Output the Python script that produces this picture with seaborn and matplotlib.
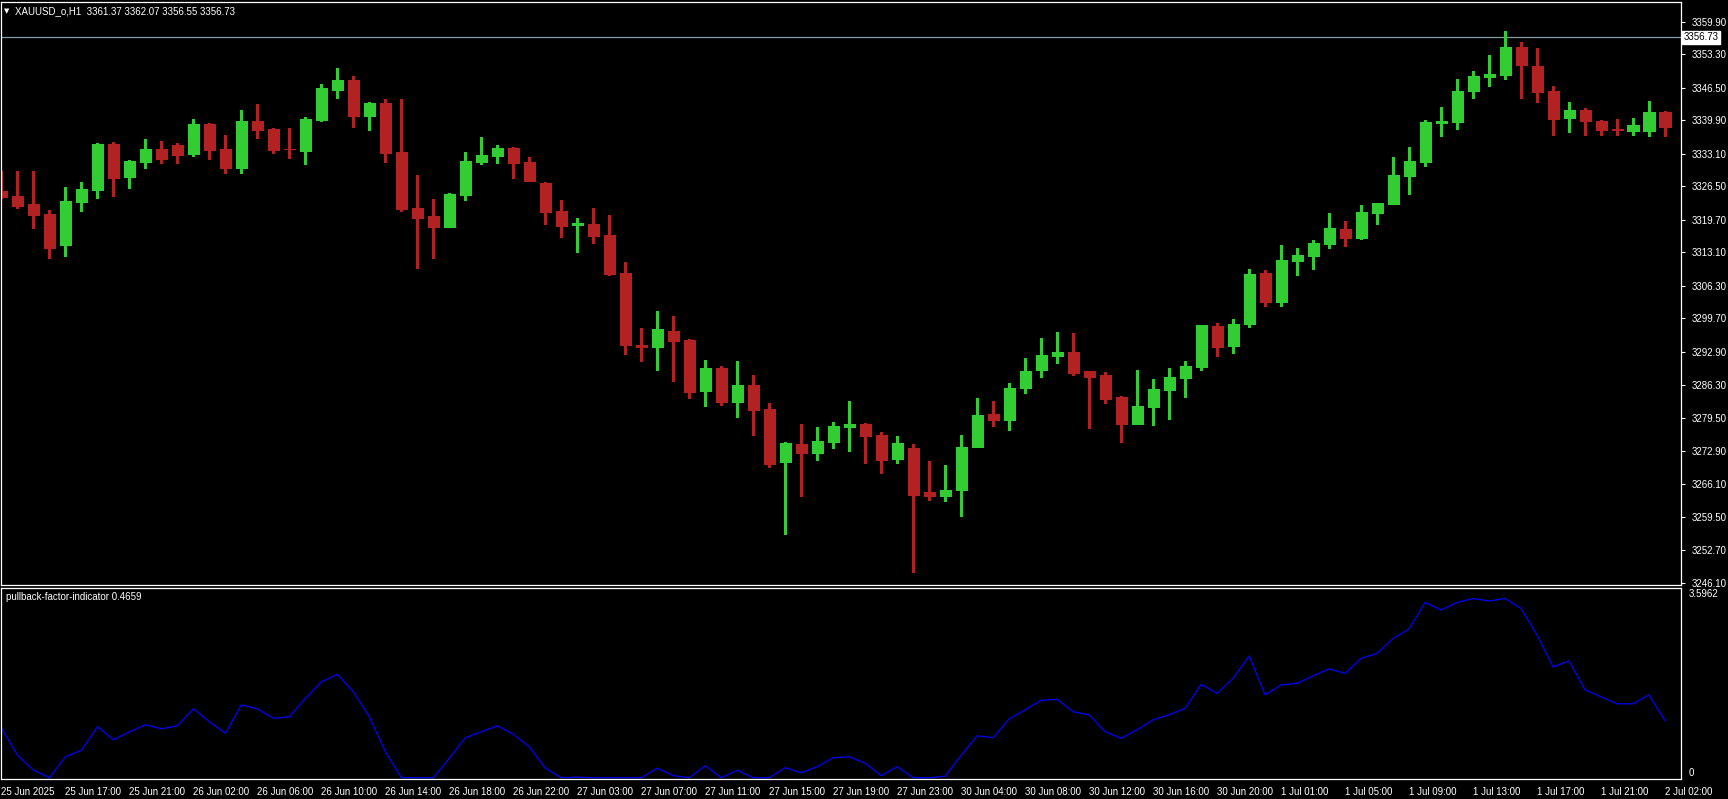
import numpy as np
import pandas as pd
import matplotlib
matplotlib.use("Agg")
import matplotlib.pyplot as plt
import matplotlib.transforms as mtransforms
import seaborn as sns

# XAUUSD_o H1 candles, 25 Jun 13:00 -> 2 Jul 02:00
opens = [3325.6, 3324.6, 3322.9, 3320.9, 3314.6, 3323.3, 3325.8, 3335.1, 3328.4, 3331.5,
         3334.1, 3334.9, 3333.1, 3339.2, 3334.1, 3330.2, 3339.8, 3338.1, 3334.1, 3333.7,
         3340.0, 3346.1, 3348.1, 3340.8, 3343.4, 3333.5, 3322.1, 3320.5, 3318.3, 3324.8,
         3331.5, 3332.7, 3334.3, 3331.5, 3327.2, 3321.5, 3318.7, 3318.9, 3316.6, 3308.9,
         3294.3, 3293.9, 3297.2, 3295.4, 3285.0, 3289.7, 3282.8, 3286.2, 3281.4, 3270.6,
         3274.3, 3272.4, 3274.7, 3277.7, 3278.3, 3276.1, 3271.2, 3273.5, 3264.5, 3263.7,
         3264.9, 3273.7, 3280.3, 3279.1, 3285.6, 3289.3, 3292.1, 3292.9, 3289.1, 3288.3,
         3283.8, 3278.3, 3281.8, 3285.2, 3287.6, 3289.9, 3298.2, 3294.1, 3298.6, 3308.9,
         3303.1, 3311.4, 3312.4, 3314.8, 3317.9, 3316.0, 3321.1, 3322.9, 3328.6, 3331.4,
         3339.4, 3339.6, 3345.8, 3348.7, 3349.1, 3354.8, 3350.9, 3345.8, 3340.4, 3342.0,
         3339.8, 3338.1, 3337.7, 3337.7, 3341.6]
highs = [3329.6, 3329.6, 3329.6, 3321.7, 3326.4, 3327.4, 3335.3, 3335.5, 3331.9, 3336.1,
         3335.7, 3335.3, 3340.2, 3339.4, 3336.9, 3342.0, 3343.2, 3338.3, 3338.3, 3340.6,
         3347.3, 3350.5, 3348.9, 3343.6, 3344.2, 3344.2, 3328.8, 3323.9, 3325.2, 3333.5,
         3336.5, 3334.9, 3334.5, 3332.5, 3327.4, 3323.7, 3320.1, 3322.1, 3320.7, 3311.2,
         3297.8, 3301.2, 3300.2, 3295.6, 3291.3, 3290.1, 3291.1, 3288.3, 3282.6, 3274.7,
         3278.3, 3277.7, 3278.7, 3283.0, 3278.5, 3276.7, 3275.9, 3274.3, 3270.8, 3270.0,
         3276.1, 3283.6, 3283.0, 3286.6, 3291.7, 3295.8, 3297.0, 3296.8, 3289.1, 3288.9,
         3284.0, 3289.3, 3287.4, 3289.7, 3291.1, 3298.4, 3298.8, 3299.6, 3309.7, 3309.5,
         3314.6, 3314.0, 3315.6, 3321.1, 3319.5, 3322.7, 3323.1, 3332.5, 3334.5, 3340.0,
         3342.6, 3348.3, 3349.9, 3353.1, 3358.0, 3355.8, 3354.6, 3346.9, 3343.6, 3342.4,
         3340.0, 3340.2, 3340.4, 3343.8, 3341.8]
lows = [3324.2, 3322.2, 3318.1, 3312.0, 3312.4, 3321.5, 3324.1, 3324.6, 3326.2, 3330.2,
        3331.2, 3331.2, 3332.7, 3332.1, 3329.2, 3329.2, 3336.3, 3333.3, 3332.3, 3331.0,
        3339.8, 3344.4, 3338.5, 3337.9, 3331.5, 3321.5, 3310.0, 3312.0, 3318.2, 3323.8,
        3331.1, 3331.3, 3328.2, 3327.6, 3318.9, 3316.2, 3313.2, 3315.0, 3308.5, 3292.5,
        3291.1, 3289.3, 3287.0, 3283.6, 3282.0, 3282.2, 3279.7, 3276.1, 3269.6, 3256.0,
        3263.7, 3271.0, 3273.4, 3272.8, 3270.4, 3268.4, 3270.4, 3248.3, 3262.9, 3262.7,
        3259.7, 3273.6, 3277.9, 3277.1, 3284.6, 3287.8, 3290.7, 3288.3, 3277.5, 3282.6,
        3274.7, 3278.3, 3278.1, 3279.3, 3283.8, 3289.3, 3292.1, 3292.7, 3298.0, 3302.2,
        3302.2, 3308.5, 3309.7, 3314.0, 3314.4, 3315.8, 3318.9, 3322.9, 3324.9, 3330.6,
        3336.7, 3338.1, 3344.4, 3346.9, 3348.3, 3344.4, 3343.6, 3336.9, 3337.5, 3336.9,
        3336.9, 3336.9, 3336.9, 3336.7, 3336.7]
closes = [3324.4, 3322.5, 3320.7, 3314.0, 3323.5, 3326.0, 3335.1, 3328.2, 3331.6, 3334.1,
          3332.1, 3332.9, 3339.2, 3333.9, 3330.2, 3339.8, 3337.9, 3333.9, 3334.0, 3340.2,
          3346.5, 3348.1, 3340.8, 3343.4, 3333.3, 3321.9, 3320.1, 3318.3, 3325.0, 3331.7,
          3332.9, 3334.3, 3331.3, 3327.6, 3321.3, 3318.5, 3319.0, 3316.4, 3308.7, 3294.3,
          3294.0, 3297.6, 3295.2, 3284.8, 3289.7, 3282.8, 3286.2, 3281.2, 3270.2, 3274.5,
          3272.4, 3274.9, 3277.9, 3278.3, 3275.9, 3271.0, 3274.5, 3263.9, 3263.7, 3264.9,
          3273.7, 3280.1, 3279.1, 3285.6, 3289.1, 3292.3, 3292.9, 3288.7, 3287.9, 3283.4,
          3278.3, 3282.0, 3285.4, 3287.8, 3290.1, 3298.4, 3293.9, 3298.6, 3308.7, 3303.1,
          3311.6, 3312.6, 3315.0, 3318.1, 3316.0, 3321.3, 3323.1, 3328.8, 3331.6, 3339.6,
          3339.8, 3345.8, 3348.9, 3349.3, 3354.8, 3351.1, 3345.6, 3340.2, 3342.0, 3339.8,
          3337.9, 3338.0, 3338.9, 3341.6, 3338.5]

# pullback-factor-indicator values, one per bar
pullback = [0.99, 0.45, 0.15, 0.00, 0.42, 0.55, 1.02, 0.76, 0.92, 1.06,
            0.98, 1.04, 1.38, 1.12, 0.89, 1.46, 1.38, 1.19, 1.22, 1.59,
            1.92, 2.07, 1.72, 1.22, 0.52, 0.00, 0.00, 0.00, 0.39, 0.80,
            0.92, 1.04, 0.87, 0.62, 0.19, 0.00, 0.01, 0.00, 0.00, 0.00,
            0.00, 0.19, 0.04, 0.00, 0.24, 0.00, 0.15, 0.00, 0.00, 0.20,
            0.10, 0.22, 0.40, 0.42, 0.29, 0.04, 0.22, 0.00, 0.00, 0.03,
            0.45, 0.84, 0.80, 1.18, 1.36, 1.55, 1.57, 1.32, 1.26, 0.92,
            0.79, 0.96, 1.16, 1.26, 1.39, 1.87, 1.69, 1.99, 2.44, 1.66,
            1.86, 1.89, 2.04, 2.18, 2.09, 2.39, 2.49, 2.79, 2.98, 3.51,
            3.36, 3.51, 3.59, 3.54, 3.59, 3.39, 2.86, 2.22, 2.34, 1.76,
            1.62, 1.48, 1.48, 1.66, 1.14]

time_labels = ["25 Jun 2025", "25 Jun 17:00", "25 Jun 21:00", "26 Jun 02:00", "26 Jun 06:00",
               "26 Jun 10:00", "26 Jun 14:00", "26 Jun 18:00", "26 Jun 22:00", "27 Jun 03:00",
               "27 Jun 07:00", "27 Jun 11:00", "27 Jun 15:00", "27 Jun 19:00", "27 Jun 23:00",
               "30 Jun 04:00", "30 Jun 08:00", "30 Jun 12:00", "30 Jun 16:00", "30 Jun 20:00",
               "1 Jul 01:00", "1 Jul 05:00", "1 Jul 09:00", "1 Jul 13:00", "1 Jul 17:00",
               "1 Jul 21:00", "2 Jul 02:00"]

price_ticks = [3359.90, 3353.30, 3346.50, 3339.90, 3333.10, 3326.50, 3319.70, 3313.10, 3306.30,
               3299.70, 3292.90, 3286.30, 3279.50, 3272.90, 3266.10, 3259.50, 3252.70, 3246.10]

header = "XAUUSD_o,H1  3361.37 3362.07 3356.55 3356.73"
last_price = 3356.73
ind_name = "pullback-factor-indicator 0.4659"
ind_max = 3.5962

df = pd.DataFrame({"open": opens, "high": highs, "low": lows, "close": closes, "pf": pullback})
df["bar"] = np.arange(len(df))

sns.set_theme(style="dark")
plt.rcParams["font.family"] = ["Liberation Sans", "DejaVu Sans"]

UP, DOWN = "#32cd32", "#b22222"
W, H = 1728, 799


def box(x0, y0, x1, y1):
    # pixel rectangle (from top-left) -> figure coords
    return [x0 / W, 1 - y1 / H, (x1 - x0) / W, (y1 - y0) / H]


fig = plt.figure(figsize=(W / 100, H / 100), dpi=100, facecolor="black")
ax1 = fig.add_axes(box(0.5, 2, 1681, 585))
ax2 = fig.add_axes(box(0.5, 588, 1681, 779))

for ax in (ax1, ax2):
    ax.set_facecolor("black")
    ax.grid(False)
    for s in ax.spines.values():
        s.set_color("white")
        s.set_linewidth(0.9)
    ax.set_xlim(-0.0625, 105)

# candles
col = np.where(df["close"] >= df["open"], UP, DOWN)
ax1.vlines(df["bar"], df["low"], df["high"], colors=col, linewidth=0.8, antialiased=False, zorder=1)
body_lo = np.minimum(df["open"], df["close"])
body_h = (df["close"] - df["open"]).abs()
ax1.bar(df["bar"], body_h, bottom=body_lo, width=0.69, color=col, edgecolor=col,
        linewidth=0.5, antialiased=False, zorder=2)

ax1.set_ylim(3245.63, 3363.90)
ax1.axhline(last_price, color="#8c96a0", linewidth=0.9, zorder=0)
ax1.yaxis.tick_right()
ax1.set_yticks(price_ticks)
ax1.set_yticklabels([f"{v:.2f}" for v in price_ticks])
ax1.tick_params(axis="y", colors="white", length=3, width=0.8, direction="out", pad=5, labelsize=7)
ax1.tick_params(axis="x", bottom=False, labelbottom=False)
ax1.set_xlabel("")
ax1.set_ylabel("")

trans1 = mtransforms.blended_transform_factory(ax1.transAxes, ax1.transData)
ax1.text(1.0015, last_price, f"{last_price:.2f}", transform=trans1, ha="left", va="center",
         fontsize=7, color="black",
         bbox=dict(boxstyle="square,pad=0.15", facecolor="white", edgecolor="white"))

fig.text(4 / W, 1 - 11 / H, "\u25bc", family="DejaVu Sans", fontsize=5, color="white", va="center")
fig.text(15 / W, 1 - 11 / H, header, fontsize=7, color="white", va="center")

# indicator window
sns.lineplot(data=df, x="bar", y="pf", ax=ax2, color="#0000ff", linewidth=0.9, legend=False)
ax2.set_ylim(-0.026, 3.80)
ax2.set_yticks([])
ax2.set_xlabel("")
ax2.set_ylabel("")
ax2.set_xticks(np.arange(0, 105, 4))
ax2.set_xticklabels(time_labels)
for lbl in ax2.get_xticklabels():
    lbl.set_horizontalalignment("left")
ax2.tick_params(axis="x", colors="white", length=4, width=0.8, direction="out", pad=2, labelsize=7)

trans2 = mtransforms.blended_transform_factory(ax2.transAxes, ax2.transData)
ax2.text(0.003, 0.955, ind_name, transform=ax2.transAxes, fontsize=7, color="white", va="center")
ax2.text(1.0045, 0.995, f"{ind_max:.4f}", transform=ax2.transAxes, fontsize=7, color="white",
         va="top", ha="left", clip_on=False)
ax2.text(1.0045, 0, "0", transform=trans2, fontsize=7, color="white", va="bottom", ha="left")

fig.savefig("out.png", dpi=100, facecolor="black")
